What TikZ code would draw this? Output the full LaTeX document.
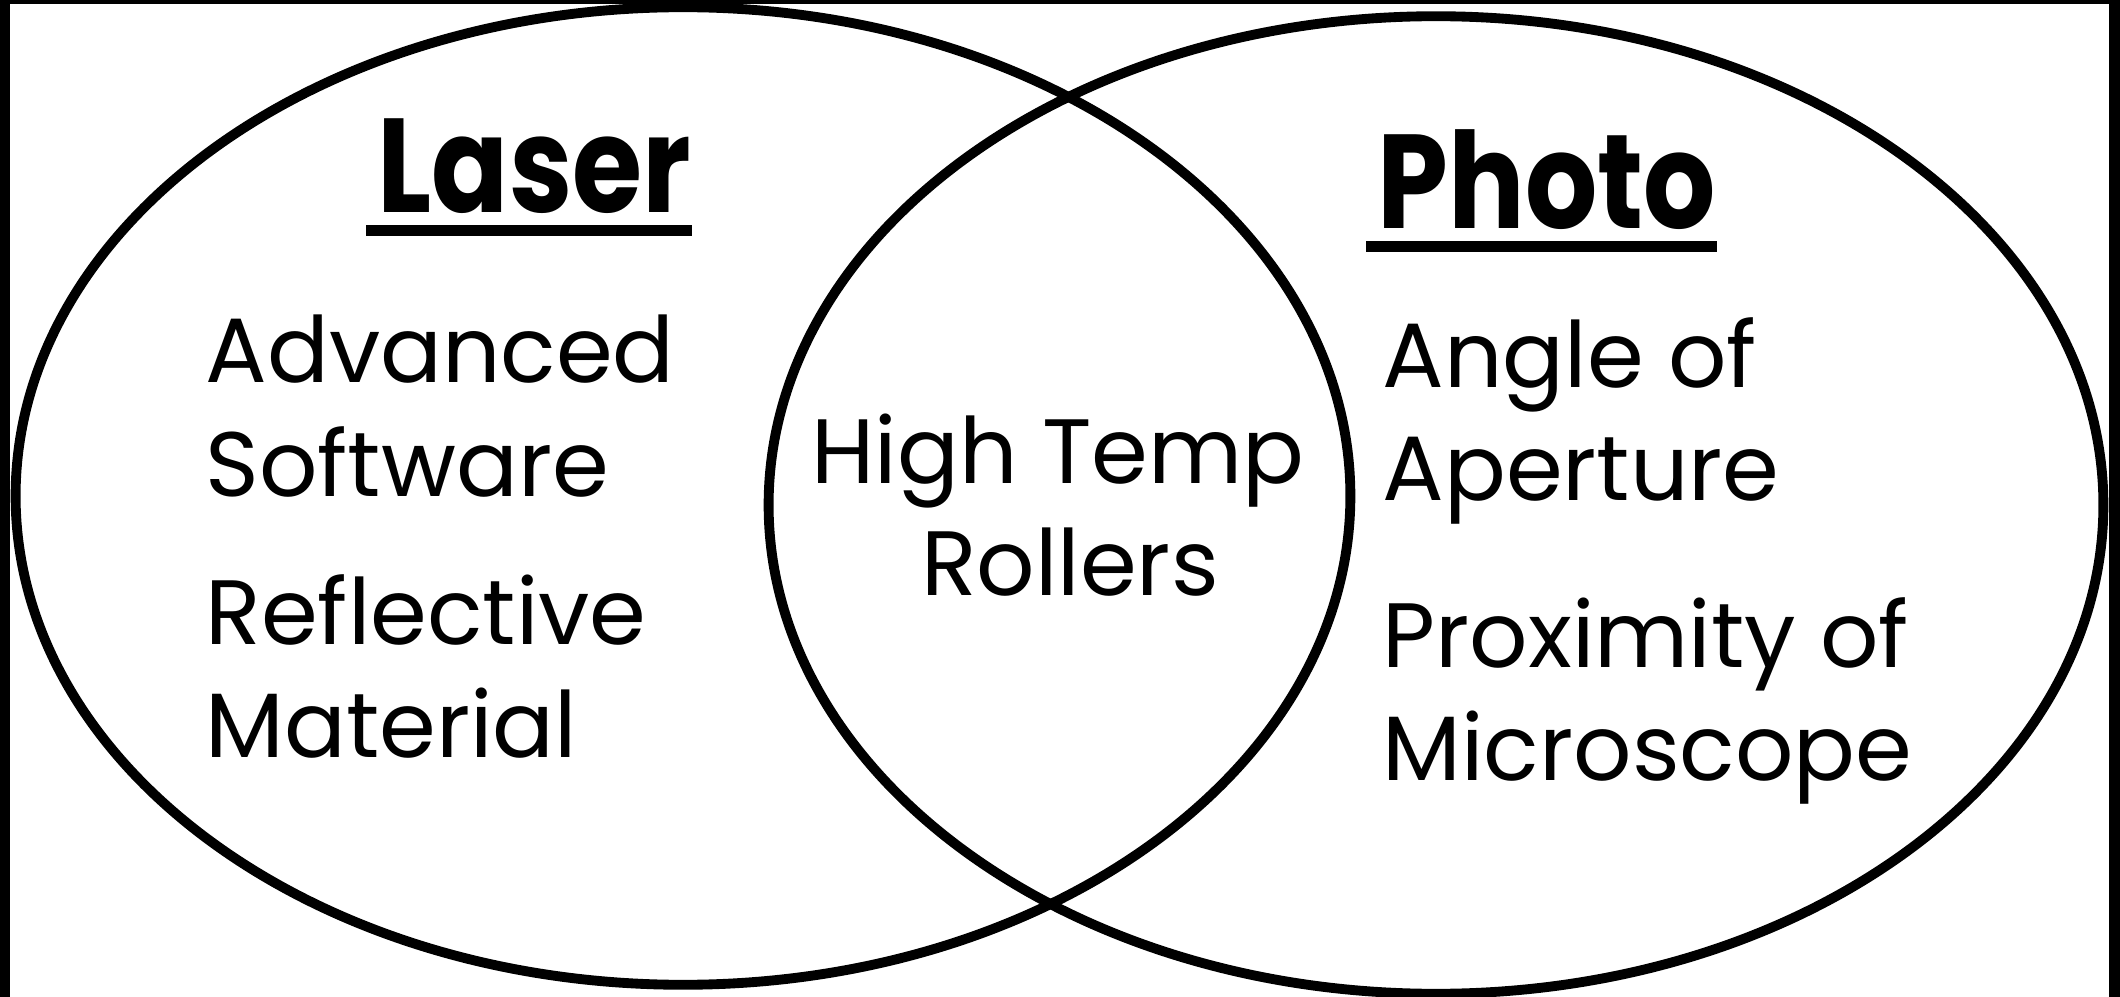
\documentclass[tikz,border=0pt]{standalone}
\usepackage{fontspec}
\setmainfont{Poppins}
\usepackage{graphicx}
\usepackage{tikz}
\usetikzlibrary{shapes.geometric}

\tikzset{
  set/.style={ellipse, draw, line width=2.8pt, minimum width=13.34cm, minimum height=9.77cm, inner sep=0pt},
  heading/.style={font=\fontsize{38}{44}\selectfont\bfseries, inner sep=0pt, anchor=base west},
  item/.style={font=\fontsize{26}{32}\selectfont, inner sep=0pt, anchor=base west},
  common/.style={font=\fontsize{26}{32}\selectfont, inner sep=0pt, anchor=base},
  underline/.style={line width=3.1pt},
}

\begin{document}
\begin{tikzpicture}[x=0.01cm, y=-0.01cm]
      \useasboundingbox (0,0) rectangle (2120,997);
      \fill (0,0) rectangle (10,997);
      \fill (2109,0) rectangle (2120,997);
      \fill (0,0) rectangle (2120,4);
      \node[set] (laserSet) at (683,496) {};
      \node[set] (photoSet) at (1436,505) {};
      \node[heading] (laser) at (377,213) {\scalebox{0.85}[1]{Laser}};
      \node[heading] (photo) at (1377,229) {\scalebox{0.85}[1]{Photo}};
      \draw[underline] ([xshift=-3pt,yshift=-5pt]laser.base west) -- ([yshift=-5pt]laser.base east);
      \draw[underline] ([xshift=-3pt,yshift=-5pt]photo.base west) -- ([yshift=-5pt]photo.base east);
      \node[item] (advanced) at (205,383) {Advanced};
      \node[item] (software) at (205,497) {Software};
      \node[item] (reflective) at (205,644) {Reflective};
      \node[item] (material) at (205,757) {Material};
      \node[common] (highTemp) at (1058,483) {High Temp};
      \node[common] (rollers) at (1070,595) {Rollers};
      \node[item] (angle) at (1382,388) {Angle of};
      \node[item] (aperture) at (1382,500) {Aperture};
      \node[item] (proximity) at (1382,667) {Proximity of};
      \node[item] (microscope) at (1382,780) {Microscope};
\end{tikzpicture}
\end{document}
